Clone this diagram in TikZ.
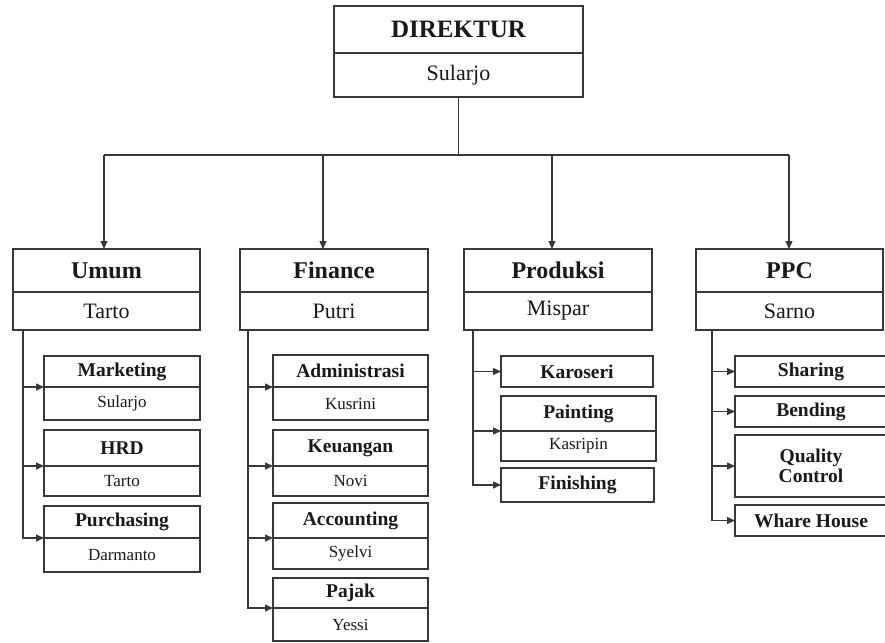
\documentclass[tikz,border=0pt]{standalone}
\usepackage{fontspec}
\setmainfont{Liberation Serif}
\usetikzlibrary{arrows.meta,positioning}
\colorlet{linecol}{black!78}
\tikzset{
  box/.style={draw=linecol, line width=1.5pt, inner sep=0pt, outer sep=0pt,
    align=center, anchor=north west, text=black!90},
  dirT/.style={box, font=\fontsize{25}{27}\selectfont\bfseries, minimum width=249, minimum height=47},
  dirN/.style={box, font=\fontsize{22}{24}\selectfont, minimum width=249, minimum height=44},
  secT/.style={box, font=\fontsize{24}{26}\selectfont\bfseries, minimum height=43},
  secN/.style={box, font=\fontsize{22}{24}\selectfont, minimum height=38},
  subT/.style={box, font=\fontsize{19.5}{20}\selectfont\bfseries, minimum height=31},
  subN/.style={box, font=\fontsize{17}{19}\selectfont, minimum height=32},
  line/.style={draw=linecol, line width=1.3pt},
  arr/.style={line, -{Triangle[length=8pt,width=7pt]}}
}
\begin{document}
\begin{tikzpicture}[x=1pt, y=-1pt]
  \useasboundingbox[fill=white] (0,0) rectangle (885,642);

  % Direktur.
  \node[dirT] (dirT) at (334,6) {DIREKTUR};
  \node[dirN, below=0pt of dirT] (dirN) {Sularjo};

  % Bagian.
  \node[secT, minimum width=187] (umumT) at (13,249) {Umum};
  \node[secN, minimum width=187, below=0pt of umumT] (umumN) {Tarto};
  \node[secT, minimum width=188] (finT) at (240,249) {Finance};
  \node[secN, minimum width=188, below=0pt of finT] (finN) {Putri};
  \node[secT, minimum width=188] (proT) at (464,249) {Produksi};
  \node[secN, minimum width=188, below=0pt of proT] (proN) {Mispar};
  \node[secT, minimum width=187] (ppcT) at (696,249) {PPC};
  \node[secN, minimum width=187, below=0pt of ppcT] (ppcN) {Sarno};

  % Bus from Direktur to the four parts.
  \coordinate (b1) at (104,155);
  \coordinate (b2) at (323,155);
  \coordinate (b3) at (552,155);
  \coordinate (b4) at (789,155);
  \draw[line] (dirN.south) -- (dirN.south |- b1);
  \draw[line] (b1) -- (b4);
  \draw[arr] (b1) -- (b1 |- umumT.north);
  \draw[arr] (b2) -- (b2 |- finT.north);
  \draw[arr] (b3) -- (b3 |- proT.north);
  \draw[arr] (b4) -- (b4 |- ppcT.north);

  % Umum.
  \node[subT, minimum width=156] (mktT) at (44,356) {Marketing};
  \node[subN, minimum width=156, minimum height=33, below=0pt of mktT] (mktN) {Sularjo};
  \node[subT, minimum width=156, minimum height=36] (hrdT) at (44,430) {HRD};
  \node[subN, minimum width=156, minimum height=30, below=0pt of hrdT] (hrdN) {Tarto};
  \node[subT, minimum width=156, minimum height=32] (purT) at (44,506) {Purchasing};
  \node[subN, minimum width=156, minimum height=34, below=0pt of purT] (purN) {Darmanto};
  \draw[arr] (umumN.south west) ++(10pt,0pt) |- (mktT.south west);
  \draw[arr] (umumN.south west) ++(10pt,0pt) |- (hrdT.south west);
  \draw[arr] (umumN.south west) ++(10pt,0pt) |- (purT.south west);

  % Finance.
  \node[subT, minimum width=155, minimum height=32] (admT) at (273,355) {Administrasi};
  \node[subN, minimum width=155, minimum height=33, below=0pt of admT] (admN) {Kusrini};
  \node[subT, minimum width=155, minimum height=36] (keuT) at (273,430) {Keuangan};
  \node[subN, minimum width=155, minimum height=30, below=0pt of keuT] (keuN) {Novi};
  \node[subT, minimum width=155, minimum height=35] (accT) at (273,503) {Accounting};
  \node[subN, minimum width=155, minimum height=31, below=0pt of accT] (accN) {Syelvi};
  \node[subT, minimum width=155, minimum height=30] (pjkT) at (273,578) {Pajak};
  \node[subN, minimum width=155, minimum height=33, below=0pt of pjkT] (pjkN) {Yessi};
  \draw[arr] (finN.south west) ++(8pt,0pt) |- (admT.south west);
  \draw[arr] (finN.south west) ++(8pt,0pt) |- (keuT.south west);
  \draw[arr] (finN.south west) ++(8pt,0pt) |- (accT.south west);
  \draw[arr] (finN.south west) ++(8pt,0pt) |- (pjkT.south west);

  % Produksi.
  \node[subT, minimum width=152] (karT) at (501,356) {Karoseri};
  \node[subT, minimum width=155, minimum height=35] (paiT) at (501,396) {Painting};
  \node[subN, minimum width=155, minimum height=30, below=0pt of paiT] (paiN) {Kasripin};
  \node[subT, minimum width=153, minimum height=34] (fisT) at (501,468) {Finishing};
  \draw[arr] (proN.south west) ++(9pt,0pt) |- (karT.west);
  \draw[arr] (proN.south west) ++(9pt,0pt) |- (paiT.south west);
  \draw[arr] (proN.south west) ++(9pt,0pt) |- (fisT.west);

  % PPC.
  \node[subT, minimum width=152] (shaT) at (735,356) {Sharing};
  \node[subT, minimum width=152] (benT) at (735,396) {Bending};
  \node[subT, minimum width=152, minimum height=62] (qcT) at (735,435) {Quality\\Control};
  \node[subT, minimum width=152] (whT) at (735,505) {Whare House};
  \draw[arr] (ppcN.south west) ++(16pt,0pt) |- (shaT.west);
  \draw[arr] (ppcN.south west) ++(16pt,0pt) |- (benT.west);
  \draw[arr] (ppcN.south west) ++(16pt,0pt) |- (qcT.west);
  \draw[arr] (ppcN.south west) ++(16pt,0pt) |- (whT.west);
\end{tikzpicture}
\end{document}
